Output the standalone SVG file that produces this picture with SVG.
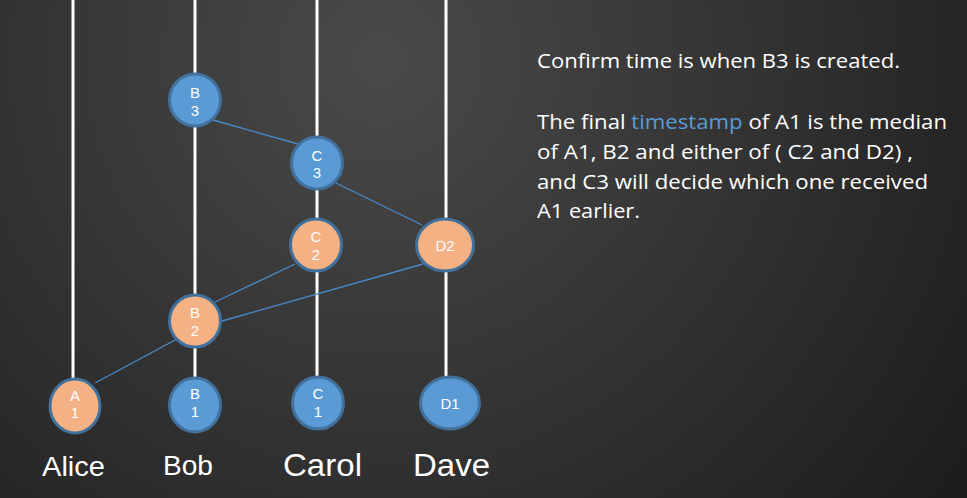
<svg xmlns="http://www.w3.org/2000/svg" width="967" height="498" viewBox="0 0 967 498">
<defs>
<radialGradient id="bg" cx="380" cy="60" r="760" gradientUnits="userSpaceOnUse">
<stop offset="0" stop-color="#4a4a4a"/>
<stop offset="0.55" stop-color="#303030"/>
<stop offset="1" stop-color="#1a1a1a"/>
</radialGradient>
<style>
.life{stroke:#ffffff;stroke-width:3;fill:none}
.conn{stroke:#4a8bcb;stroke-width:1.3;fill:none}
.blue{fill:#5b9bd5;stroke:#41719c;stroke-width:3}
.orange{fill:#f4b183;stroke:#41719c;stroke-width:3}
.nl{font-family:"Liberation Sans",Arial,sans-serif;font-size:15px;fill:#ffffff;text-anchor:middle}
.name{font-family:"Liberation Sans",Arial,sans-serif;fill:#ffffff}
.note{font-family:"Open Sans","Liberation Sans",sans-serif;font-size:20.5px;fill:#ffffff}
</style>
</defs>
<rect width="967" height="498" fill="url(#bg)"/>
<g id="lifelines">
<line class="life" x1="73" y1="0" x2="73" y2="405"/>
<line class="life" x1="195" y1="0" x2="195" y2="405"/>
<line class="life" x1="317" y1="0" x2="317" y2="403"/>
<line class="life" x1="446" y1="0" x2="446" y2="403"/>
</g>
<g id="connectors">
<line class="conn" x1="95" y1="383" x2="177" y2="339"/>
<line class="conn" x1="215" y1="302" x2="295" y2="264"/>
<line class="conn" x1="222" y1="321" x2="423" y2="264"/>
<line class="conn" x1="213" y1="120" x2="298" y2="144"/>
<line class="conn" x1="336" y1="183" x2="422" y2="225"/>
</g>
<g id="B3"><ellipse class="blue" cx="195" cy="100" rx="25.5" ry="26"/><text class="nl" x="195" y="98">B</text><text class="nl" x="195" y="116">3</text></g>
<g id="C3"><ellipse class="blue" cx="317" cy="163" rx="25.5" ry="26"/><text class="nl" x="317" y="161">C</text><text class="nl" x="317" y="178">3</text></g>
<g id="C2"><ellipse class="orange" cx="316" cy="245" rx="25.5" ry="26"/><text class="nl" x="316" y="242">C</text><text class="nl" x="316" y="260">2</text></g>
<g id="D2"><ellipse class="orange" cx="445" cy="245" rx="28.5" ry="26"/><text class="nl" x="445" y="251">D2</text></g>
<g id="B2"><ellipse class="orange" cx="195" cy="321" rx="25.5" ry="26"/><text class="nl" x="195" y="318">B</text><text class="nl" x="195" y="336">2</text></g>
<g id="A1"><ellipse class="orange" cx="75" cy="406" rx="25" ry="27"/><text class="nl" x="75" y="401">A</text><text class="nl" x="75" y="418">1</text></g>
<g id="B1"><ellipse class="blue" cx="195" cy="405" rx="25.5" ry="27"/><text class="nl" x="195" y="399">B</text><text class="nl" x="195" y="417">1</text></g>
<g id="C1"><ellipse class="blue" cx="318" cy="403" rx="25.5" ry="26"/><text class="nl" x="318" y="399">C</text><text class="nl" x="318" y="417">1</text></g>
<g id="D1"><ellipse class="blue" cx="450" cy="403" rx="29.5" ry="26"/><text class="nl" x="450" y="409">D1</text></g>
<g id="names">
<text class="name" x="42" y="476" font-size="27" textLength="63" lengthAdjust="spacingAndGlyphs">Alice</text>
<text class="name" x="163" y="475" font-size="27" textLength="50" lengthAdjust="spacingAndGlyphs">Bob</text>
<text class="name" x="283" y="476" font-size="31" textLength="79" lengthAdjust="spacingAndGlyphs">Carol</text>
<text class="name" x="413" y="476" font-size="31" textLength="77" lengthAdjust="spacingAndGlyphs">Dave</text>
</g>
<g id="note">
<text class="note" x="537" y="68" textLength="363" lengthAdjust="spacingAndGlyphs">Confirm time is when B3 is created.</text>
<text class="note" x="537" y="129" textLength="410" lengthAdjust="spacingAndGlyphs">The final <tspan fill="#5b9bd5">timestamp</tspan> of A1 is the median</text>
<text class="note" x="537" y="159" textLength="376" lengthAdjust="spacingAndGlyphs">of A1, B2 and either of ( C2 and D2) ,</text>
<text class="note" x="537" y="189" textLength="391" lengthAdjust="spacingAndGlyphs">and C3 will decide which one received</text>
<text class="note" x="537" y="218" textLength="103" lengthAdjust="spacingAndGlyphs">A1 earlier.</text>
</g>
</svg>
